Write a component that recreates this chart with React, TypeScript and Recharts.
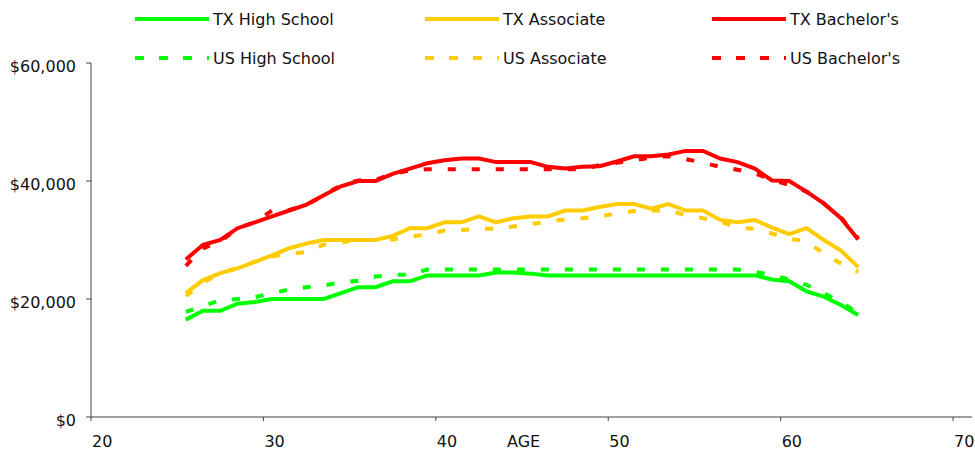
import React from "react";
import { LineChart, Line, XAxis, YAxis } from "recharts";

// ages are plotted at mid-year (25.5 ... 64.5)
const ages = [
  25.5, 26.5, 27.5, 28.5, 29.5, 30.5, 31.5, 32.5, 33.5, 34.5,
  35.5, 36.5, 37.5, 38.5, 39.5, 40.5, 41.5, 42.5, 43.5, 44.5,
  45.5, 46.5, 47.5, 48.5, 49.5, 50.5, 51.5, 52.5, 53.5, 54.5,
  55.5, 56.5, 57.5, 58.5, 59.5, 60.5, 61.5, 62.5, 63.5, 64.5,
];

const txHighSchool = [
  16500, 18000, 18000, 19200, 19500, 20000, 20000, 20000, 20000, 21000,
  22000, 22000, 23000, 23000, 24000, 24000, 24000, 24000, 24500, 24500,
  24300, 24000, 24000, 24000, 24000, 24000, 24000, 24000, 24000, 24000,
  24000, 24000, 24000, 24000, 23300, 23000, 21300, 20400, 19000, 17300,
];
const txAssociate = [
  21000, 23200, 24400, 25200, 26300, 27400, 28600, 29400, 30000, 30000,
  30000, 30000, 30700, 32000, 32000, 33000, 33000, 34000, 33000, 33700,
  34000, 34000, 35000, 35000, 35600, 36100, 36100, 35300, 36100, 35000,
  35000, 33400, 33000, 33400, 32100, 31000, 32000, 30000, 28200, 25400,
];
const txBachelors = [
  26700, 29200, 30000, 32000, 33000, 34000, 35000, 36000, 37600, 39100,
  40000, 40000, 41200, 42100, 43000, 43500, 43800, 43800, 43200, 43200,
  43200, 42400, 42100, 42400, 42500, 43300, 44200, 44200, 44500, 45100,
  45100, 43800, 43200, 42100, 40100, 40000, 38200, 36200, 33700, 30100,
];
const usHighSchool = [
  17800, 18800, 19800, 20000, 20300, 21000, 21600, 22000, 22300, 22800,
  23100, 23800, 24100, 24100, 25000, 25000, 25000, 25000, 25000, 25000,
  25000, 25000, 25000, 25000, 25000, 25000, 25000, 25000, 25000, 25000,
  25000, 25000, 25000, 24600, 24100, 23300, 22400, 21000, 19500, 17600,
];
const usAssociate = [
  20500, 22800, 24300, 25300, 26300, 27200, 27700, 27900, 29200, 29600,
  30000, 30000, 30100, 30600, 30900, 31600, 31700, 31900, 31900, 32300,
  32700, 33100, 33500, 33700, 34000, 34500, 34900, 35000, 35000, 34200,
  33700, 33100, 32100, 31900, 31100, 30200, 29800, 27700, 26000, 24600,
];
const usBachelors = [
  25600, 28600, 29700, 32000, 33000, 35000, 35100, 35900, 37600, 39300,
  40100, 40200, 41200, 41800, 42000, 42000, 42000, 42000, 42000, 42000,
  42000, 42000, 42000, 42000, 42700, 43100, 43500, 44000, 44200, 43700,
  43100, 42400, 41900, 41300, 40200, 39300, 38200, 36200, 33800, 30300,
];

const xTicks = [20, 30, 40, 50, 60, 70];
const yTicks = [0, 20000, 40000, 60000];

const FONT = "'DejaVu Sans', Verdana, sans-serif";
const AXIS = "#404040";

interface SeriesConfig {
  key: string;
  label: string;
  color: string;
  dashed: boolean;
  values: number[];
}

const series: SeriesConfig[] = [
  { key: "txHS", label: "TX High School", color: "#00ff00", dashed: false, values: txHighSchool },
  { key: "txAS", label: "TX Associate", color: "#ffcc00", dashed: false, values: txAssociate },
  { key: "txBA", label: "TX Bachelor's", color: "#ff0000", dashed: false, values: txBachelors },
  { key: "usHS", label: "US High School", color: "#00ff00", dashed: true, values: usHighSchool },
  { key: "usAS", label: "US Associate", color: "#ffcc00", dashed: true, values: usAssociate },
  { key: "usBA", label: "US Bachelor's", color: "#ff0000", dashed: true, values: usBachelors },
];

const data = ages.map((age, i) => {
  const row: Record<string, number> = { age };
  series.forEach((s) => {
    row[s.key] = s.values[i];
  });
  return row;
});

const money = (v: number) => "$" + v.toLocaleString("en-US");

function XTick({ x, y, payload }: any) {
  return (
    <text x={x + 1} y={y + 24} textAnchor="start" fontSize={16} fontFamily={FONT} fill="#111">
      {payload.value}
    </text>
  );
}

function YTick({ x, y, payload }: any) {
  return (
    <text x={x} y={y + 9} textAnchor="end" fontSize={16} fontFamily={FONT} fill="#111">
      {money(payload.value)}
    </text>
  );
}

function AgeLabel({ viewBox }: any) {
  if (!viewBox) return null;
  return (
    <text x={viewBox.x + 416} y={447} textAnchor="start" fontSize={16} fontFamily={FONT} fill="#111">
      AGE
    </text>
  );
}

const legendCols = [135, 425, 712];
const legendRows = [19, 58];

function ChartLegend() {
  return (
    <>
      {series.map((s, i) => {
        const left = legendCols[i % 3];
        const top = legendRows[s.dashed ? 1 : 0];
        return (
          <div
            key={s.key}
            style={{
              position: "absolute",
              left,
              top: top - 10,
              height: 20,
              display: "flex",
              alignItems: "center",
              fontFamily: FONT,
              fontSize: 16,
              color: "#111",
              whiteSpace: "nowrap",
            }}
          >
            <svg width={74} height={20} style={{ marginRight: 4 }}>
              <line
                x1={0}
                y1={10}
                x2={74}
                y2={10}
                stroke={s.color}
                strokeWidth={4}
                strokeDasharray={s.dashed ? "9 15" : undefined}
              />
            </svg>
            <span>{s.label}</span>
          </div>
        );
      })}
    </>
  );
}

export default function App() {
  const drawOrder = [...series.filter((s) => s.dashed), ...series.filter((s) => !s.dashed)];
  return (
    <div style={{ position: "absolute", left: 0, top: 0, width: 975, height: 450, background: "#fff" }}>
      <LineChart width={975} height={450} data={data} margin={{ top: 63, right: 3, left: 0, bottom: 0 }}>
        <XAxis
          dataKey="age"
          type="number"
          domain={[20, 71.1]}
          ticks={xTicks}
          interval={0}
          tickSize={4}
          height={33}
          stroke={AXIS}
          tick={<XTick />}
          label={<AgeLabel />}
        />
        <YAxis
          type="number"
          domain={[0, 60000]}
          ticks={yTicks}
          interval={0}
          width={91}
          tickSize={5}
          tickMargin={10}
          stroke={AXIS}
          tick={<YTick />}
        />
        {drawOrder.map((s) => (
          <Line
            key={s.key}
            dataKey={s.key}
            name={s.label}
            type="linear"
            stroke={s.color}
            strokeWidth={4}
            strokeDasharray={s.dashed ? "8 16" : undefined}
            dot={false}
            activeDot={false}
            isAnimationActive={false}
          />
        ))}
      </LineChart>
      <ChartLegend />
    </div>
  );
}
